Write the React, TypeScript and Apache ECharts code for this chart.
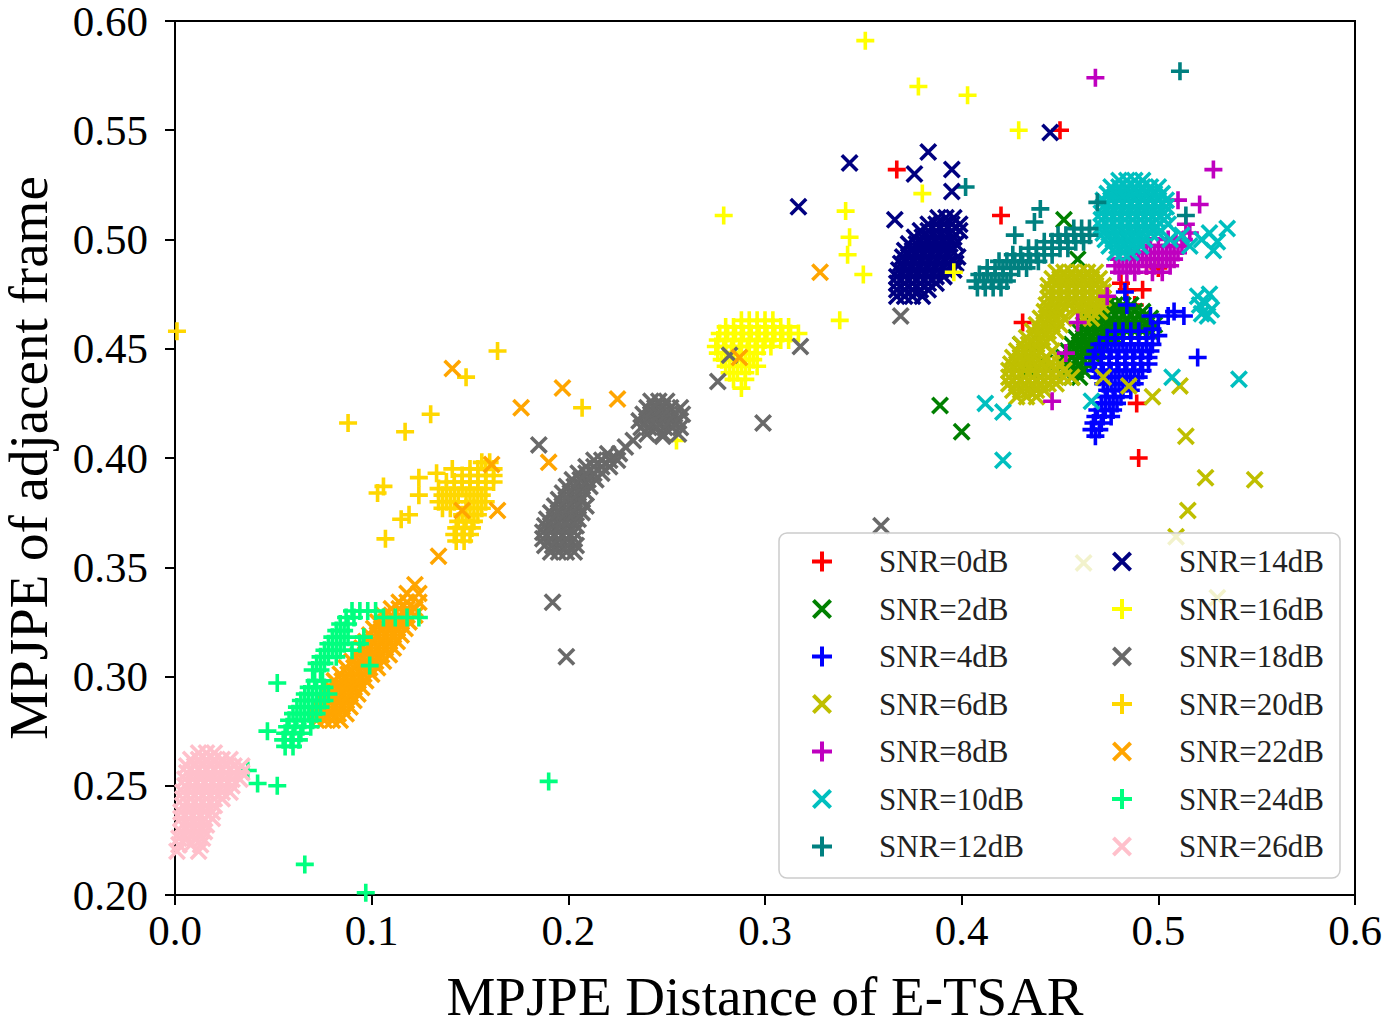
import React, { useEffect, useRef } from "react";
import * as echarts from "echarts";

const seriesNames = [
  "SNR=0dB", "SNR=2dB", "SNR=4dB", "SNR=6dB", "SNR=8dB", "SNR=10dB", "SNR=12dB",
  "SNR=14dB", "SNR=16dB", "SNR=18dB", "SNR=20dB", "SNR=22dB", "SNR=24dB", "SNR=26dB",
];

const xTicks = [0, 0.1, 0.2, 0.3, 0.4, 0.5, 0.6];
const yTicks = [0.2, 0.25, 0.3, 0.35, 0.4, 0.45, 0.5, 0.55, 0.6];

// Each row: [y, x1, x2, ...] — every listed x is one point at that y.
const snr0Rows = [
  [0.532, 0.367], [0.511, 0.420], [0.462, 0.431], [0.550, 0.450], [0.477, 0.484, 0.492],
  [0.425, 0.489], [0.400, 0.490], [0.488, 0.494], [0.487, 0.500], [0.470, 0.488], [0.480, 0.481],
];

const snr2Rows = [
  [0.470, 0.474, 0.478, 0.482, 0.486],
  [0.467, 0.468, 0.472, 0.476, 0.480, 0.484, 0.488, 0.492],
  [0.464, 0.464, 0.468, 0.472, 0.476, 0.480, 0.484, 0.488, 0.492, 0.496],
  [0.461, 0.462, 0.466, 0.470, 0.474, 0.478, 0.482, 0.486, 0.490, 0.494, 0.498],
  [0.458, 0.460, 0.464, 0.468, 0.472, 0.476, 0.480, 0.484, 0.488, 0.492, 0.496],
  [0.455, 0.458, 0.462, 0.466, 0.470, 0.474, 0.478],
  [0.452, 0.456, 0.460, 0.464, 0.468, 0.472],
  [0.449, 0.454, 0.458, 0.462, 0.466, 0.470],
  [0.446, 0.452, 0.456, 0.460, 0.464, 0.468],
  [0.443, 0.452, 0.456, 0.460, 0.464],
  [0.440, 0.454, 0.458, 0.462],
  [0.437, 0.456, 0.460],
  [0.452, 0.430], [0.448, 0.436], [0.444, 0.442], [0.440, 0.434], [0.437, 0.440],
  [0.509, 0.452], [0.491, 0.459], [0.424, 0.389], [0.412, 0.400],
];

const snr4Rows = [
  [0.458, 0.478, 0.482, 0.486, 0.490],
  [0.455, 0.474, 0.478, 0.482, 0.486, 0.490, 0.494],
  [0.452, 0.470, 0.474, 0.478, 0.482, 0.486, 0.490, 0.494, 0.497],
  [0.449, 0.468, 0.472, 0.476, 0.480, 0.484, 0.488, 0.492, 0.496],
  [0.446, 0.467, 0.471, 0.475, 0.479, 0.483, 0.487, 0.491, 0.495],
  [0.443, 0.467, 0.471, 0.475, 0.479, 0.483, 0.487, 0.491, 0.495],
  [0.440, 0.468, 0.472, 0.476, 0.480, 0.484, 0.488, 0.492],
  [0.437, 0.470, 0.474, 0.478, 0.482, 0.486, 0.490],
  [0.434, 0.472, 0.476, 0.480, 0.484, 0.488],
  [0.431, 0.474, 0.478, 0.482, 0.486],
  [0.428, 0.473, 0.477, 0.481],
  [0.425, 0.471, 0.475, 0.479],
  [0.422, 0.469, 0.473, 0.477],
  [0.419, 0.468, 0.472, 0.476],
  [0.416, 0.467, 0.471],
  [0.413, 0.466, 0.470],
  [0.410, 0.468],
  [0.459, 0.497], [0.462, 0.500], [0.465, 0.505, 0.496, 0.513], [0.467, 0.508], [0.470, 0.484],
  [0.476, 0.483], [0.446, 0.520], [0.456, 0.500],
];

const snr6Rows = [
  [0.485, 0.448, 0.452, 0.456, 0.460, 0.464, 0.468],
  [0.482, 0.446, 0.450, 0.454, 0.458, 0.462, 0.466, 0.470],
  [0.479, 0.444, 0.448, 0.452, 0.456, 0.460, 0.464, 0.468, 0.472],
  [0.476, 0.444, 0.448, 0.452, 0.456, 0.460, 0.464, 0.468, 0.472],
  [0.473, 0.444, 0.448, 0.452, 0.456, 0.460, 0.464, 0.468, 0.472],
  [0.470, 0.443, 0.447, 0.451, 0.455, 0.459, 0.463, 0.467, 0.471],
  [0.467, 0.442, 0.446, 0.450, 0.458, 0.462, 0.466, 0.470],
  [0.464, 0.440, 0.444, 0.448, 0.452, 0.462, 0.466],
  [0.461, 0.438, 0.442, 0.446, 0.450],
  [0.458, 0.436, 0.440, 0.444, 0.448],
  [0.455, 0.433, 0.437, 0.441, 0.445],
  [0.452, 0.430, 0.434, 0.438, 0.442],
  [0.449, 0.428, 0.432, 0.436, 0.440, 0.446],
  [0.446, 0.426, 0.430, 0.434, 0.438, 0.443],
  [0.443, 0.425, 0.429, 0.433, 0.437, 0.441, 0.445, 0.450],
  [0.440, 0.424, 0.428, 0.432, 0.436, 0.440, 0.444, 0.448, 0.452],
  [0.437, 0.424, 0.428, 0.432, 0.436, 0.440, 0.444, 0.448, 0.452, 0.456],
  [0.434, 0.424, 0.428, 0.432, 0.436, 0.440, 0.444, 0.448],
  [0.431, 0.426, 0.430, 0.434, 0.438, 0.442],
  [0.428, 0.428, 0.433, 0.438],
  [0.437, 0.472], [0.433, 0.485], [0.428, 0.497], [0.433, 0.511], [0.410, 0.514], [0.391, 0.524],
  [0.390, 0.549], [0.376, 0.515], [0.364, 0.509], [0.336, 0.530], [0.352, 0.462],
];

const snr8Rows = [
  [0.500, 0.505, 0.509, 0.513],
  [0.497, 0.496, 0.500, 0.504, 0.508, 0.512],
  [0.494, 0.486, 0.490, 0.494, 0.498, 0.502, 0.506, 0.510],
  [0.491, 0.480, 0.484, 0.488, 0.492, 0.496, 0.500, 0.504, 0.508],
  [0.488, 0.478, 0.482, 0.486, 0.490, 0.494, 0.498, 0.502, 0.506],
  [0.485, 0.480, 0.484, 0.488, 0.497, 0.502],
  [0.507, 0.514], [0.503, 0.516], [0.574, 0.468], [0.532, 0.528], [0.516, 0.521], [0.518, 0.510],
  [0.474, 0.474], [0.462, 0.459], [0.448, 0.453], [0.426, 0.446],
];

const snr10Rows = [
  [0.527, 0.480, 0.484, 0.488, 0.492],
  [0.524, 0.476, 0.480, 0.484, 0.488, 0.492, 0.496, 0.500],
  [0.521, 0.474, 0.478, 0.482, 0.486, 0.490, 0.494, 0.498, 0.502],
  [0.518, 0.472, 0.476, 0.480, 0.484, 0.488, 0.492, 0.496, 0.500, 0.504],
  [0.515, 0.472, 0.476, 0.480, 0.484, 0.488, 0.492, 0.496, 0.500, 0.504],
  [0.512, 0.471, 0.475, 0.479, 0.483, 0.487, 0.491, 0.495, 0.499, 0.503],
  [0.509, 0.471, 0.475, 0.479, 0.483, 0.487, 0.491, 0.495, 0.499, 0.503],
  [0.506, 0.471, 0.475, 0.479, 0.483, 0.487, 0.491, 0.495, 0.499],
  [0.503, 0.472, 0.476, 0.480, 0.484, 0.488, 0.492, 0.496],
  [0.500, 0.473, 0.477, 0.481, 0.485, 0.489, 0.493],
  [0.497, 0.475, 0.479, 0.483, 0.487, 0.491],
  [0.494, 0.478, 0.482, 0.486],
  [0.503, 0.500, 0.526], [0.500, 0.506, 0.522], [0.502, 0.512], [0.497, 0.516], [0.499, 0.530],
  [0.505, 0.535], [0.495, 0.528], [0.507, 0.505],
  [0.474, 0.520], [0.471, 0.524], [0.468, 0.527], [0.466, 0.522], [0.475, 0.526], [0.470, 0.521],
  [0.465, 0.525],
  [0.436, 0.541], [0.437, 0.507], [0.426, 0.466], [0.399, 0.421], [0.425, 0.412], [0.421, 0.421],
];

const snr12Rows = [
  [0.505, 0.457, 0.461, 0.465],
  [0.502, 0.449, 0.453, 0.457, 0.461, 0.465],
  [0.499, 0.442, 0.446, 0.450, 0.454, 0.458, 0.462],
  [0.496, 0.434, 0.438, 0.442, 0.446, 0.450, 0.454],
  [0.493, 0.426, 0.430, 0.434, 0.438, 0.442, 0.446],
  [0.490, 0.419, 0.423, 0.427, 0.431, 0.435, 0.439],
  [0.487, 0.413, 0.417, 0.421, 0.425, 0.429, 0.433],
  [0.484, 0.409, 0.413, 0.417, 0.421, 0.425],
  [0.481, 0.407, 0.411, 0.415, 0.419, 0.423],
  [0.478, 0.408, 0.412, 0.416, 0.420],
  [0.577, 0.511], [0.524, 0.402], [0.514, 0.440], [0.508, 0.437], [0.502, 0.427], [0.517, 0.469],
  [0.511, 0.514],
];

const snr14Rows = [
  [0.510, 0.388, 0.392, 0.396],
  [0.507, 0.383, 0.387, 0.391, 0.395, 0.399],
  [0.504, 0.379, 0.383, 0.387, 0.391, 0.395, 0.399],
  [0.501, 0.376, 0.380, 0.384, 0.388, 0.392, 0.396],
  [0.498, 0.373, 0.377, 0.381, 0.385, 0.389, 0.393, 0.397],
  [0.495, 0.371, 0.375, 0.379, 0.383, 0.387, 0.391, 0.395],
  [0.492, 0.370, 0.374, 0.378, 0.382, 0.386, 0.390, 0.394, 0.398],
  [0.489, 0.369, 0.373, 0.377, 0.381, 0.385, 0.389, 0.393, 0.397],
  [0.486, 0.368, 0.372, 0.376, 0.380, 0.384, 0.388, 0.392, 0.396],
  [0.483, 0.367, 0.371, 0.375, 0.379, 0.383, 0.387, 0.391],
  [0.480, 0.367, 0.371, 0.375, 0.379, 0.383, 0.387],
  [0.477, 0.367, 0.371, 0.375, 0.379, 0.383],
  [0.474, 0.367, 0.371, 0.375, 0.380],
  [0.515, 0.317], [0.535, 0.343], [0.509, 0.366], [0.530, 0.376], [0.540, 0.383], [0.532, 0.395],
  [0.522, 0.395], [0.549, 0.445],
];

const snr16Rows = [
  [0.463, 0.288, 0.292, 0.296, 0.300, 0.304],
  [0.460, 0.280, 0.284, 0.288, 0.292, 0.296, 0.300, 0.304, 0.308, 0.312],
  [0.457, 0.277, 0.281, 0.285, 0.289, 0.293, 0.297, 0.301, 0.305, 0.309, 0.313, 0.317],
  [0.454, 0.276, 0.280, 0.284, 0.288, 0.292, 0.296, 0.300, 0.304, 0.308, 0.312],
  [0.451, 0.275, 0.279, 0.283, 0.287, 0.291, 0.295, 0.299, 0.303],
  [0.448, 0.276, 0.280, 0.284, 0.288, 0.292, 0.296],
  [0.445, 0.278, 0.282, 0.286, 0.290, 0.294],
  [0.442, 0.280, 0.284, 0.288, 0.292, 0.296],
  [0.439, 0.282, 0.286, 0.290],
  [0.436, 0.284, 0.290],
  [0.432, 0.288],
  [0.591, 0.351], [0.570, 0.378], [0.566, 0.403], [0.550, 0.429], [0.521, 0.380], [0.511, 0.279],
  [0.513, 0.341], [0.501, 0.343], [0.493, 0.342], [0.484, 0.350], [0.463, 0.338], [0.485, 0.396],
  [0.408, 0.255],
];

const snr18Rows = [
  [0.357, 0.191, 0.195, 0.199, 0.203],
  [0.360, 0.188, 0.192, 0.196, 0.200, 0.204],
  [0.363, 0.187, 0.191, 0.195, 0.199, 0.203],
  [0.366, 0.187, 0.191, 0.195, 0.199, 0.203],
  [0.369, 0.188, 0.192, 0.196, 0.200, 0.204],
  [0.372, 0.189, 0.193, 0.197, 0.201, 0.205],
  [0.375, 0.191, 0.195, 0.199, 0.203, 0.207],
  [0.378, 0.193, 0.197, 0.201, 0.205, 0.209],
  [0.381, 0.195, 0.199, 0.203, 0.207],
  [0.384, 0.197, 0.201, 0.205, 0.209],
  [0.387, 0.199, 0.203, 0.207, 0.211],
  [0.390, 0.202, 0.206, 0.210, 0.214],
  [0.393, 0.205, 0.209, 0.213, 0.217],
  [0.396, 0.209, 0.213, 0.217, 0.221],
  [0.399, 0.213, 0.217, 0.221, 0.225],
  [0.402, 0.220, 0.226],
  [0.405, 0.229],
  [0.408, 0.233],
  [0.411, 0.240, 0.248, 0.256],
  [0.414, 0.237, 0.241, 0.245, 0.249, 0.253, 0.257],
  [0.417, 0.236, 0.240, 0.244, 0.248, 0.252, 0.256],
  [0.420, 0.238, 0.242, 0.246, 0.250, 0.254, 0.258],
  [0.423, 0.240, 0.244, 0.248, 0.252, 0.257],
  [0.426, 0.242, 0.246, 0.250],
  [0.406, 0.185], [0.334, 0.192], [0.309, 0.199], [0.435, 0.276], [0.447, 0.282], [0.416, 0.299],
  [0.451, 0.318], [0.465, 0.369], [0.369, 0.359], [0.410, 0.248],
];

const snr20Rows = [
  [0.398, 0.156, 0.160],
  [0.395, 0.150, 0.154, 0.158, 0.162],
  [0.392, 0.146, 0.150, 0.154, 0.158, 0.162],
  [0.389, 0.138, 0.142, 0.146, 0.150, 0.154, 0.158, 0.162],
  [0.386, 0.134, 0.138, 0.142, 0.146, 0.150, 0.154, 0.158],
  [0.383, 0.136, 0.140, 0.144, 0.148, 0.152, 0.156],
  [0.380, 0.134, 0.138, 0.142, 0.150, 0.154, 0.158],
  [0.377, 0.136, 0.140, 0.148, 0.152, 0.156],
  [0.374, 0.146, 0.150, 0.154],
  [0.371, 0.144, 0.148, 0.152],
  [0.368, 0.143, 0.147, 0.151],
  [0.365, 0.142, 0.146, 0.150],
  [0.362, 0.143, 0.147],
  [0.387, 0.106], [0.384, 0.103], [0.391, 0.124], [0.383, 0.124], [0.372, 0.115], [0.374, 0.119],
  [0.363, 0.107], [0.393, 0.133], [0.395, 0.141],
  [0.458, 0.001], [0.416, 0.088], [0.412, 0.117], [0.420, 0.130], [0.437, 0.148], [0.449, 0.164],
  [0.423, 0.207],
];

const snr22Rows = [
  [0.280, 0.072, 0.076, 0.080, 0.084],
  [0.283, 0.071, 0.075, 0.079, 0.083, 0.087],
  [0.286, 0.073, 0.077, 0.081, 0.085, 0.089],
  [0.289, 0.075, 0.079, 0.083, 0.087, 0.091],
  [0.292, 0.077, 0.081, 0.085, 0.089, 0.093],
  [0.295, 0.079, 0.083, 0.087, 0.091, 0.095],
  [0.298, 0.081, 0.085, 0.089, 0.093, 0.097],
  [0.301, 0.084, 0.088, 0.092, 0.096, 0.100],
  [0.304, 0.087, 0.091, 0.095, 0.099, 0.103],
  [0.307, 0.090, 0.094, 0.098, 0.102, 0.106],
  [0.310, 0.093, 0.097, 0.101, 0.105, 0.109],
  [0.313, 0.095, 0.099, 0.103, 0.107, 0.111],
  [0.316, 0.097, 0.101, 0.105, 0.109, 0.113],
  [0.319, 0.099, 0.103, 0.107, 0.111, 0.115],
  [0.322, 0.101, 0.105, 0.109, 0.113, 0.117],
  [0.325, 0.103, 0.107, 0.111, 0.115, 0.119],
  [0.328, 0.106, 0.110, 0.114, 0.118, 0.122],
  [0.331, 0.110, 0.114, 0.118, 0.122],
  [0.334, 0.114, 0.118, 0.124],
  [0.338, 0.118, 0.124],
  [0.342, 0.122],
  [0.485, 0.328], [0.446, 0.287], [0.398, 0.190], [0.432, 0.197], [0.423, 0.176], [0.427, 0.225],
  [0.441, 0.141], [0.397, 0.161], [0.376, 0.146, 0.164], [0.355, 0.134],
];

const snr24Rows = [
  [0.268, 0.056, 0.060],
  [0.271, 0.055, 0.059, 0.063],
  [0.274, 0.056, 0.060, 0.064],
  [0.277, 0.057, 0.061, 0.065, 0.069],
  [0.280, 0.058, 0.062, 0.066, 0.070],
  [0.283, 0.060, 0.064, 0.068, 0.072],
  [0.286, 0.062, 0.066, 0.070, 0.074],
  [0.289, 0.064, 0.068, 0.072, 0.076],
  [0.292, 0.066, 0.070, 0.074, 0.078],
  [0.295, 0.068, 0.072, 0.076],
  [0.298, 0.071, 0.075],
  [0.303, 0.070, 0.074],
  [0.306, 0.072, 0.076],
  [0.309, 0.074, 0.078, 0.082],
  [0.312, 0.076, 0.080, 0.084, 0.090],
  [0.315, 0.078, 0.082, 0.086, 0.094],
  [0.318, 0.080, 0.084, 0.088, 0.096],
  [0.321, 0.082, 0.086],
  [0.324, 0.084, 0.088],
  [0.327, 0.087, 0.091, 0.106, 0.112, 0.118, 0.124],
  [0.330, 0.090, 0.094, 0.098, 0.102],
  [0.297, 0.052], [0.275, 0.047], [0.257, 0.037], [0.251, 0.042], [0.250, 0.052], [0.214, 0.066],
  [0.201, 0.097], [0.252, 0.190], [0.305, 0.099],
];

const snr26Rows = [
  [0.265, 0.012, 0.016, 0.020],
  [0.262, 0.008, 0.012, 0.016, 0.020, 0.024, 0.028],
  [0.259, 0.006, 0.010, 0.014, 0.018, 0.022, 0.026, 0.030, 0.034],
  [0.256, 0.006, 0.010, 0.014, 0.018, 0.022, 0.026, 0.030, 0.034],
  [0.253, 0.005, 0.009, 0.013, 0.017, 0.021, 0.025, 0.029, 0.033],
  [0.250, 0.005, 0.009, 0.013, 0.017, 0.021, 0.025, 0.029],
  [0.247, 0.004, 0.008, 0.012, 0.016, 0.020, 0.024, 0.028],
  [0.244, 0.004, 0.008, 0.012, 0.016, 0.020, 0.024],
  [0.241, 0.004, 0.008, 0.012, 0.016, 0.020],
  [0.238, 0.003, 0.007, 0.011, 0.015, 0.019],
  [0.235, 0.003, 0.007, 0.011, 0.015, 0.019],
  [0.232, 0.004, 0.008, 0.012, 0.016],
  [0.229, 0.003, 0.007, 0.011, 0.015],
  [0.226, 0.002, 0.006, 0.010, 0.014],
  [0.223, 0.002, 0.008, 0.013],
  [0.220, 0.001, 0.012],
];

const seriesRows = [
  snr0Rows, snr2Rows, snr4Rows, snr6Rows, snr8Rows, snr10Rows, snr12Rows,
  snr14Rows, snr16Rows, snr18Rows, snr20Rows, snr22Rows, snr24Rows, snr26Rows,
];

const seriesColors = [
  "#ff0000", "#008000", "#0000ff", "#bfbf00", "#bf00bf", "#00bfbf", "#008080",
  "#000080", "#ffff00", "#696969", "#ffd700", "#ffa500", "#00ff7f", "#ffc0cb",
];

const PLUS = "path://M4,0L6,0L6,4L10,4L10,6L6,6L6,10L4,10L4,6L0,6L0,4L4,4Z";
const CROSS = "path://M0,1.4L1.4,0L10,8.6L8.6,10ZM1.4,10L0,8.6L8.6,0L10,1.4Z";

const FONT = "'Liberation Serif', 'Times New Roman', serif";

function rowsToPoints(rows: number[][]) {
  const pts: number[][] = [];
  rows.forEach((row) => {
    const y = row[0];
    for (let i = 1; i < row.length; i++) pts.push([row[i], y]);
  });
  return pts;
}

export default function App() {
  const ref = useRef<HTMLDivElement>(null);
  useEffect(() => {
    document.body.style.margin = "0";
    const chart = echarts.init(ref.current!, null, { renderer: "svg" });
    const series = seriesNames.map((name, i) => ({
      name,
      type: "scatter",
      data: rowsToPoints(seriesRows[i]),
      symbol: i % 2 === 0 ? PLUS : CROSS,
      symbolSize: 18,
      itemStyle: { color: seriesColors[i], opacity: 1 },
      z: 2,
    }));
    const legendCommon = {
      orient: "vertical",
      itemWidth: 60,
      itemHeight: 20,
      itemGap: 16.5,
      textStyle: {
        fontFamily: FONT,
        fontSize: 31,
        color: "#222",
        lineHeight: 31,
        padding: [0, 0, 0, 22],
      },
      z: 20,
      selectedMode: false,
    };
    chart.setOption({
      animation: false,
      backgroundColor: "#fff",
      grid: {
        left: 175,
        right: 34,
        top: 21,
        bottom: 126,
        show: true,
        borderColor: "#000",
        borderWidth: 2,
        backgroundColor: "transparent",
        containLabel: false,
        outerBoundsMode: "none",
      },
      xAxis: {
        type: "value",
        min: xTicks[0],
        max: xTicks[xTicks.length - 1],
        interval: 0.1,
        name: "MPJPE Distance of E-TSAR",
        nameLocation: "middle",
        nameGap: 78,
        nameTextStyle: { fontFamily: FONT, fontSize: 55, color: "#000", lineHeight: 46 },
        axisLine: { lineStyle: { color: "#000", width: 2 } },
        axisTick: { show: true, length: 10, lineStyle: { color: "#000", width: 2 } },
        splitLine: { show: false },
        axisLabel: {
          fontFamily: FONT,
          fontSize: 43,
          color: "#000",
          margin: 16,
          lineHeight: 38,
          formatter: (v: number) => v.toFixed(1),
        },
      },
      yAxis: {
        type: "value",
        min: yTicks[0],
        max: yTicks[yTicks.length - 1],
        interval: 0.05,
        name: "MPJPE of adjacent frame",
        nameLocation: "middle",
        nameGap: 124,
        nameTextStyle: { fontFamily: FONT, fontSize: 55, color: "#000", lineHeight: 46 },
        axisLine: { lineStyle: { color: "#000", width: 2 } },
        axisTick: { show: true, length: 10, lineStyle: { color: "#000", width: 2 } },
        splitLine: { show: false },
        axisLabel: {
          fontFamily: FONT,
          fontSize: 43,
          color: "#000",
          margin: 27,
          lineHeight: 38,
          formatter: (v: number) => v.toFixed(2),
        },
      },
      graphic: [
        {
          type: "rect",
          z: 15,
          shape: { x: 779, y: 533, width: 561, height: 345, r: 8 },
          style: { fill: "rgba(255,255,255,0.8)", stroke: "#cccccc", lineWidth: 1.5 },
        },
      ],
      legend: [
        {
          ...legendCommon,
          left: 807,
          top: 541,
          data: seriesNames.slice(0, 7).map((n, i) => ({ name: n, icon: i % 2 === 0 ? PLUS : CROSS })),
        },
        {
          ...legendCommon,
          left: 1107,
          top: 541,
          data: seriesNames.slice(7).map((n, i) => ({ name: n, icon: (i + 7) % 2 === 0 ? PLUS : CROSS })),
        },
      ],
      series,
    });
    return () => chart.dispose();
  }, []);
  return <div ref={ref} style={{ width: 1389, height: 1021 }} />;
}
